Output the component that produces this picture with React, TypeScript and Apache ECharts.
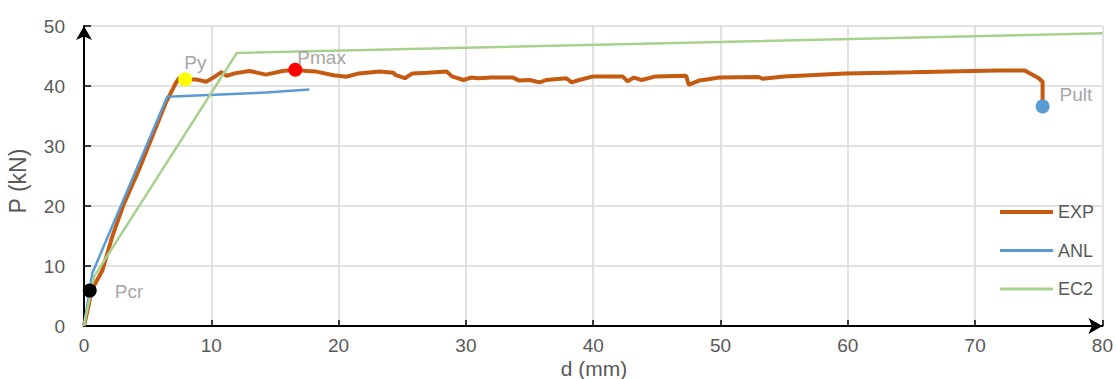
import React, { useEffect, useRef } from "react";
import * as echarts from "echarts";

// ---- data ----
const EXP_X = [0, 0.4, 0.55, 1.45, 2.22, 3.14, 4.31, 5.36, 6.4, 7.19, 7.45, 7.95, 8.8, 9.6, 10.15, 10.8, 11.2, 11.84, 13.0, 14.3, 15.6, 16.6, 17.5, 18.25, 19.6, 20.6, 21.6, 23.2, 24.3, 24.5, 25.2, 25.8, 27.0, 28.5, 28.9, 29.8, 30.4, 31.0, 32.0, 33.7, 34.2, 35.0, 35.8, 36.3, 37.9, 38.3, 38.9, 40.0, 41.5, 42.3, 42.7, 43.2, 43.8, 44.9, 47.3, 47.5, 48.3, 48.9, 49.9, 53.0, 53.3, 55.0, 59.8, 65.0, 71.8, 73.9, 75.0, 75.3, 75.3, 75.3];
const EXP_Y = [0, 3.8, 5.8, 9.3, 14.9, 20.4, 26.0, 31.6, 37.1, 40.4, 41.3, 41.1, 41.1, 40.7, 41.4, 42.3, 41.7, 42.1, 42.5, 41.9, 42.5, 42.7, 42.5, 42.4, 41.8, 41.55, 42.1, 42.4, 42.2, 41.8, 41.3, 42.1, 42.2, 42.4, 41.6, 41.0, 41.4, 41.3, 41.4, 41.4, 40.9, 41.0, 40.6, 41.0, 41.3, 40.6, 41.0, 41.6, 41.6, 41.6, 40.8, 41.4, 41.0, 41.6, 41.7, 40.2, 40.9, 41.1, 41.4, 41.5, 41.2, 41.6, 42.1, 42.3, 42.6, 42.6, 41.3, 40.7, 37.7, 36.8];
const ANL_X = [0, 0.65, 6.54, 14.3, 17.7];
const ANL_Y = [0, 8.8, 38.2, 38.9, 39.4];
const EC2_X = [0, 0.78, 12.0, 80];
const EC2_Y = [0, 8.2, 45.5, 48.8];
const POINT_NAMES = ["Pcr", "Py", "Pmax", "Pult"];
const POINT_X = [0.45, 7.95, 16.6, 75.3];
const POINT_Y = [5.9, 41.1, 42.7, 36.6];
const SERIES_NAMES = ["EXP", "ANL", "EC2"];
const X_TITLE = "d (mm)";
const Y_TITLE = "P (kN)";

// ---- styles ----
const COLORS = ["#c55a11", "#5b9bd5", "#a9d18e"];
const WIDTHS = [4, 2.5, 2.5];
const LEGEND_WIDTHS = [4, 3, 3];
const MARKER_COLORS = ["#000000", "#ffff00", "#ff0000", "#5b9bd5"];
const LABEL_OFFSETS: [number, number][] = [[18, 1], [-8, -17], [-5, -12], [10, -12]];
const FONT = "'Liberation Sans', Arial, sans-serif";

const zip = (xs: number[], ys: number[]) => xs.map((x, i) => [x, ys[i]]);

export default function App() {
  const ref = useRef<HTMLDivElement>(null);
  useEffect(() => {
    if (!ref.current) return;
    const chart = echarts.init(ref.current, undefined, { renderer: "svg" });
    const lineData = [zip(EXP_X, EXP_Y), zip(ANL_X, ANL_Y), zip(EC2_X, EC2_Y)];
    chart.setOption({
      animation: false,
      backgroundColor: "#ffffff",
      textStyle: { fontFamily: FONT },
      grid: { left: 84, right: 12, top: 26, bottom: 53, containLabel: false },
      xAxis: {
        type: "value",
        min: 0,
        max: 80,
        interval: 10,
        axisLine: { show: true, lineStyle: { color: "#000", width: 2 }, symbol: ["none", "arrow"], symbolSize: [12, 14] },
        axisTick: { show: true, inside: true, length: 6, lineStyle: { color: "#000", width: 1.5 } },
        axisLabel: { fontSize: 19, color: "#595959", margin: 10, fontFamily: FONT },
        splitLine: { show: true, lineStyle: { color: "#d9d9d9", width: 1.5 } },
      },
      yAxis: {
        type: "value",
        min: 0,
        max: 50,
        interval: 10,
        axisLine: { show: true, lineStyle: { color: "#000", width: 2 }, symbol: ["none", "arrow"], symbolSize: [12, 14] },
        axisTick: { show: true, inside: true, length: 7, lineStyle: { color: "#000", width: 1.5 } },
        axisLabel: { fontSize: 19, color: "#595959", margin: 19, fontFamily: FONT },
        splitLine: { show: true, lineStyle: { color: "#d9d9d9", width: 1.5 } },
      },
      legend: {
        data: SERIES_NAMES.map((name, i) => ({ name, lineStyle: { width: LEGEND_WIDTHS[i] } })),
        orient: "vertical",
        left: 993,
        top: 198,
        itemWidth: 53,
        itemHeight: 18,
        itemGap: 20.5,
        itemStyle: { opacity: 0 },
        textStyle: { fontSize: 18, color: "#595959", fontFamily: FONT },
      },
      graphic: [
        {
          type: "text",
          x: 594,
          y: 368,
          style: { text: X_TITLE, fontSize: 21, fill: "#595959", align: "center", verticalAlign: "middle", fontFamily: FONT },
        },
        {
          type: "text",
          x: 18,
          y: 181,
          rotation: Math.PI / 2,
          style: { text: Y_TITLE, fontSize: 23, fill: "#595959", align: "center", verticalAlign: "middle", fontFamily: FONT },
        },
      ],
      series: [
        ...SERIES_NAMES.map((name, i) => ({
          name,
          type: "line",
          data: lineData[i],
          showSymbol: false,
          symbol: "none",
          color: COLORS[i],
          lineStyle: { color: COLORS[i], width: WIDTHS[i] },
          z: 2 + i,
        })),
        {
          name: "points",
          type: "scatter",
          symbolSize: 14,
          z: 10,
          data: POINT_NAMES.map((n, i) => ({
            name: n,
            value: [POINT_X[i], POINT_Y[i]],
            itemStyle: { color: MARKER_COLORS[i], opacity: 1 },
            label: {
              show: true,
              formatter: n,
              position: "right",
              distance: 0,
              offset: LABEL_OFFSETS[i],
              fontSize: 19,
              color: "#a6a6a6",
              fontFamily: FONT,
            },
          })),
        },
      ],
    });
    return () => chart.dispose();
  }, []);
  return <div ref={ref} style={{ width: 1116, height: 379, position: "absolute", left: 0, top: 0 }} />;
}
